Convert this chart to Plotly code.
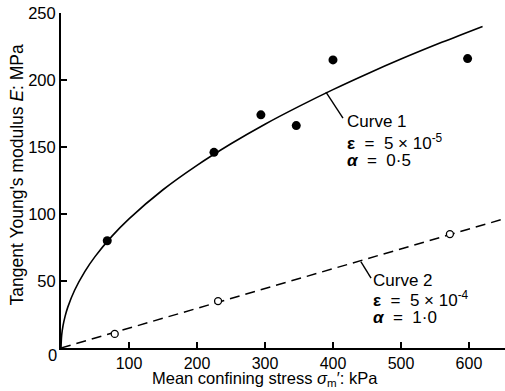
import plotly.graph_objects as go

filled_x = [68, 225, 294, 346, 400, 598]
filled_y = [80, 146, 174, 166, 215, 216]
open_x = [79, 231, 572]
open_y = [10.5, 35, 85]

# Curve 1
curve1_x = [0, 1, 3, 6, 10, 20, 35, 50, 75, 100, 150, 200, 250, 300, 350, 400, 450, 500, 560, 620]
curve1_y = [0, 9.6, 16.7, 23.6, 30.5, 43.1, 57.0, 68.2, 83.5, 96.4, 118.1, 136.3, 152.4, 167.0,
            180.3, 192.8, 204.5, 215.6, 228.1, 240.0]
# Curve 2 (dashed straight line)
curve2_x = [0, 653]
curve2_y = [0, 96.6]

x_ticks = [100, 200, 300, 400, 500, 600]
y_ticks = [50, 100, 150, 200, 250]

SP = "&nbsp;"
label1 = ["Curve 1", "<b>ε</b>" + SP + " = " + SP + "5 × 10<sup>-5</sup>", "<b><i>α</i></b>" + SP + " = " + SP + "0·5"]
label2 = ["Curve 2", "<b>ε</b>" + SP + " = " + SP + "5 × 10<sup>-4</sup>", "<b><i>α</i></b>" + SP + " = " + SP + "1·0"]
label1_pos = (417.5, [168.7, 153.7, 139.6])
label2_pos = (456.5, [50.7, 36.6, 23.1])
leader1 = [(389.7, 191.0), (414.7, 171.6)]
leader2 = [(441.0, 64.5), (456.0, 52.2)]

FONT = "Liberation Sans, Arial, Helvetica, sans-serif"
FS = 17

fig = go.Figure()
fig.add_trace(go.Scatter(x=curve1_x, y=curve1_y, mode="lines", line=dict(color="black", width=1.6, shape="spline"),
                         hoverinfo="skip", showlegend=False))
fig.add_trace(go.Scatter(x=curve2_x, y=curve2_y, mode="lines", line=dict(color="black", width=1.5, dash="10px,6px"),
                         hoverinfo="skip", showlegend=False))
fig.add_trace(go.Scatter(x=filled_x, y=filled_y, mode="markers",
                         marker=dict(color="black", size=9, symbol="circle"), showlegend=False))
fig.add_trace(go.Scatter(x=open_x, y=open_y, mode="markers",
                         marker=dict(color="white", size=7, symbol="circle", line=dict(color="black", width=1.3)),
                         showlegend=False))

annotations = []
for txt, yy in zip(label1, label1_pos[1]):
    annotations.append(dict(x=label1_pos[0], y=yy, text=txt, showarrow=False, xanchor="left", yanchor="middle",
                            font=dict(family=FONT, size=FS, color="black")))
for txt, yy in zip(label2, label2_pos[1]):
    annotations.append(dict(x=label2_pos[0], y=yy, text=txt, showarrow=False, xanchor="left", yanchor="middle",
                            font=dict(family=FONT, size=FS, color="black")))
# corner zero
annotations.append(dict(x=0, y=0, text="0", showarrow=False, xanchor="center", yanchor="middle",
                        xshift=-9, yshift=-7, font=dict(family=FONT, size=16.5, color="black")))
# axis titles
annotations.append(dict(xref="paper", yref="paper", x=0.459, y=-0.1275, text="Mean confining stress <i>σ</i><sub>m</sub>′: kPa",
                        showarrow=False, xanchor="center", yanchor="bottom",
                        font=dict(family=FONT, size=16.5, color="black")))
annotations.append(dict(xref="paper", yref="paper", x=-0.097, y=0.518, text="Tangent Young's modulus <i>E</i>: MPa",
                        showarrow=False, xanchor="center", yanchor="middle", textangle=-90,
                        font=dict(family=FONT, size=17.5, color="black")))

shapes = []
for (x0, y0), (x1, y1) in [leader1, leader2]:
    shapes.append(dict(type="line", x0=x0, y0=y0, x1=x1, y1=y1, line=dict(color="black", width=1.4)))

fig.update_layout(
    width=505, height=391,
    margin=dict(l=61, r=0, t=13, b=43),
    paper_bgcolor="white", plot_bgcolor="white",
    font=dict(family=FONT, size=FS, color="black"),
    annotations=annotations, shapes=shapes,
    xaxis=dict(range=[0, 653], tickvals=x_ticks, ticktext=[str(v) for v in x_ticks],
               showgrid=False, zeroline=False, showline=True, linecolor="black", linewidth=2,
               ticks="inside", ticklen=6, tickwidth=1.5, tickcolor="black", ticklabelstandoff=0,
               tickfont=dict(family=FONT, size=16, color="black")),
    yaxis=dict(range=[0, 250], tickvals=y_ticks, ticktext=[str(v) for v in y_ticks],
               showgrid=False, zeroline=False, showline=True, linecolor="black", linewidth=2,
               ticks="inside", ticklen=6, tickwidth=1.5, tickcolor="black",
               tickfont=dict(family=FONT, size=16.5, color="black")),
)

fig.write_html("out.html")
